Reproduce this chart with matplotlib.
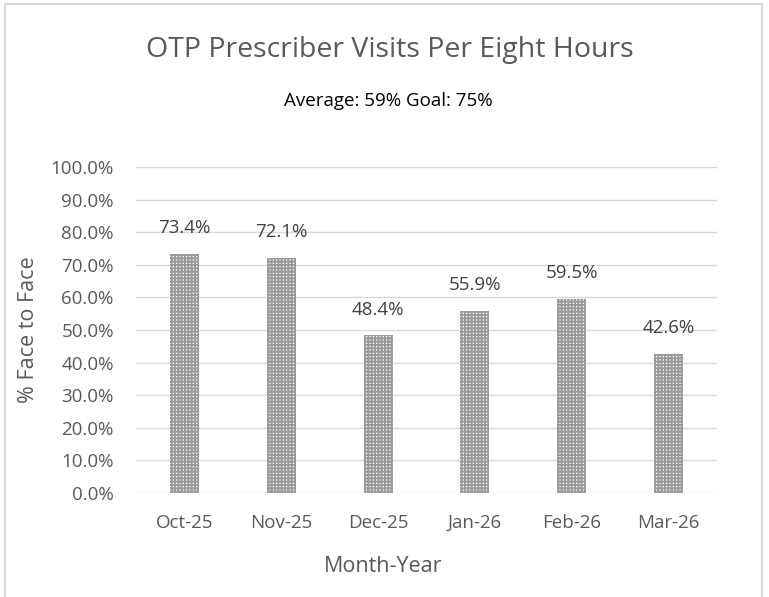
import matplotlib
matplotlib.use("Agg")
import matplotlib.pyplot as plt
from matplotlib.patches import Rectangle
from matplotlib.ticker import FuncFormatter, MultipleLocator

# ─── Data ────────────────────────────────────────────────────────────────
months = ["Oct-25", "Nov-25", "Dec-25", "Jan-26", "Feb-26", "Mar-26"]
face_to_face = [73.4, 72.1, 48.4, 55.9, 59.5, 42.6]

TITLE = "OTP Prescriber Visits Per Eight Hours"
SUBTITLE = "Average: 59% Goal: 75%"

TEXT_GRAY = "#595959"
GRID_GRAY = "#d9d9d9"

plt.rcParams["font.family"] = ["Open Sans", "DejaVu Sans"]
plt.rcParams["hatch.linewidth"] = 1.4

fig = plt.figure(figsize=(7.69, 5.97), dpi=100)
W, H = 769, 597

# outer chart frame (bottom runs off the picture)
fig.patches.append(Rectangle((5 / W, -0.05), 757 / W, 1.05 - 4 / H,
                             transform=fig.transFigure, fill=False,
                             edgecolor=GRID_GRAY, linewidth=1.5))

ax = fig.add_axes([136 / W, 1 - 493 / H, 581 / W, 326 / H])

x = list(range(len(months)))
bars = ax.bar(x, face_to_face, width=0.3, color="white",
              edgecolor="#9a9a9a", linewidth=0, hatch="+" * 5, zorder=3)

for xi, v in zip(x, face_to_face):
    ax.annotate(f"{v:.1f}%", (xi, v), xytext=(0, 18.5), textcoords="offset points",
                ha="center", va="center", fontsize=13.5, color="#404040")

ax.set_xlim(-0.5, len(months) - 0.5)
ax.set_ylim(0, 100)
ax.yaxis.set_major_locator(MultipleLocator(10))
ax.yaxis.set_major_formatter(FuncFormatter(lambda v, _: f"{v:.1f}%"))
ax.set_xticks(x)
ax.set_xticklabels(months)

ax.grid(axis="y", color=GRID_GRAY, linewidth=1.0, zorder=0)
ax.set_axisbelow(True)
for s in ax.spines.values():
    s.set_visible(False)
ax.tick_params(axis="both", length=0, colors=TEXT_GRAY, labelsize=13.5)
ax.tick_params(axis="y", pad=16)
ax.tick_params(axis="x", pad=15)

ax.set_ylabel("% Face to Face", fontsize=15.5, color=TEXT_GRAY, labelpad=8)

# x-axis title is centred on the whole chart frame, not the plot area
fig.text(383 / W, 1 - 567 / H, "Month-Year", ha="center", va="center",
         fontsize=15.5, color=TEXT_GRAY)
fig.text(390 / W, 1 - 50 / H, TITLE, ha="center", va="center",
         fontsize=20.5, color=TEXT_GRAY)
fig.text(388 / W, 1 - 101 / H, SUBTITLE, ha="center", va="center",
         fontsize=13.5, color="black")

fig.savefig("out.png", dpi=100)
